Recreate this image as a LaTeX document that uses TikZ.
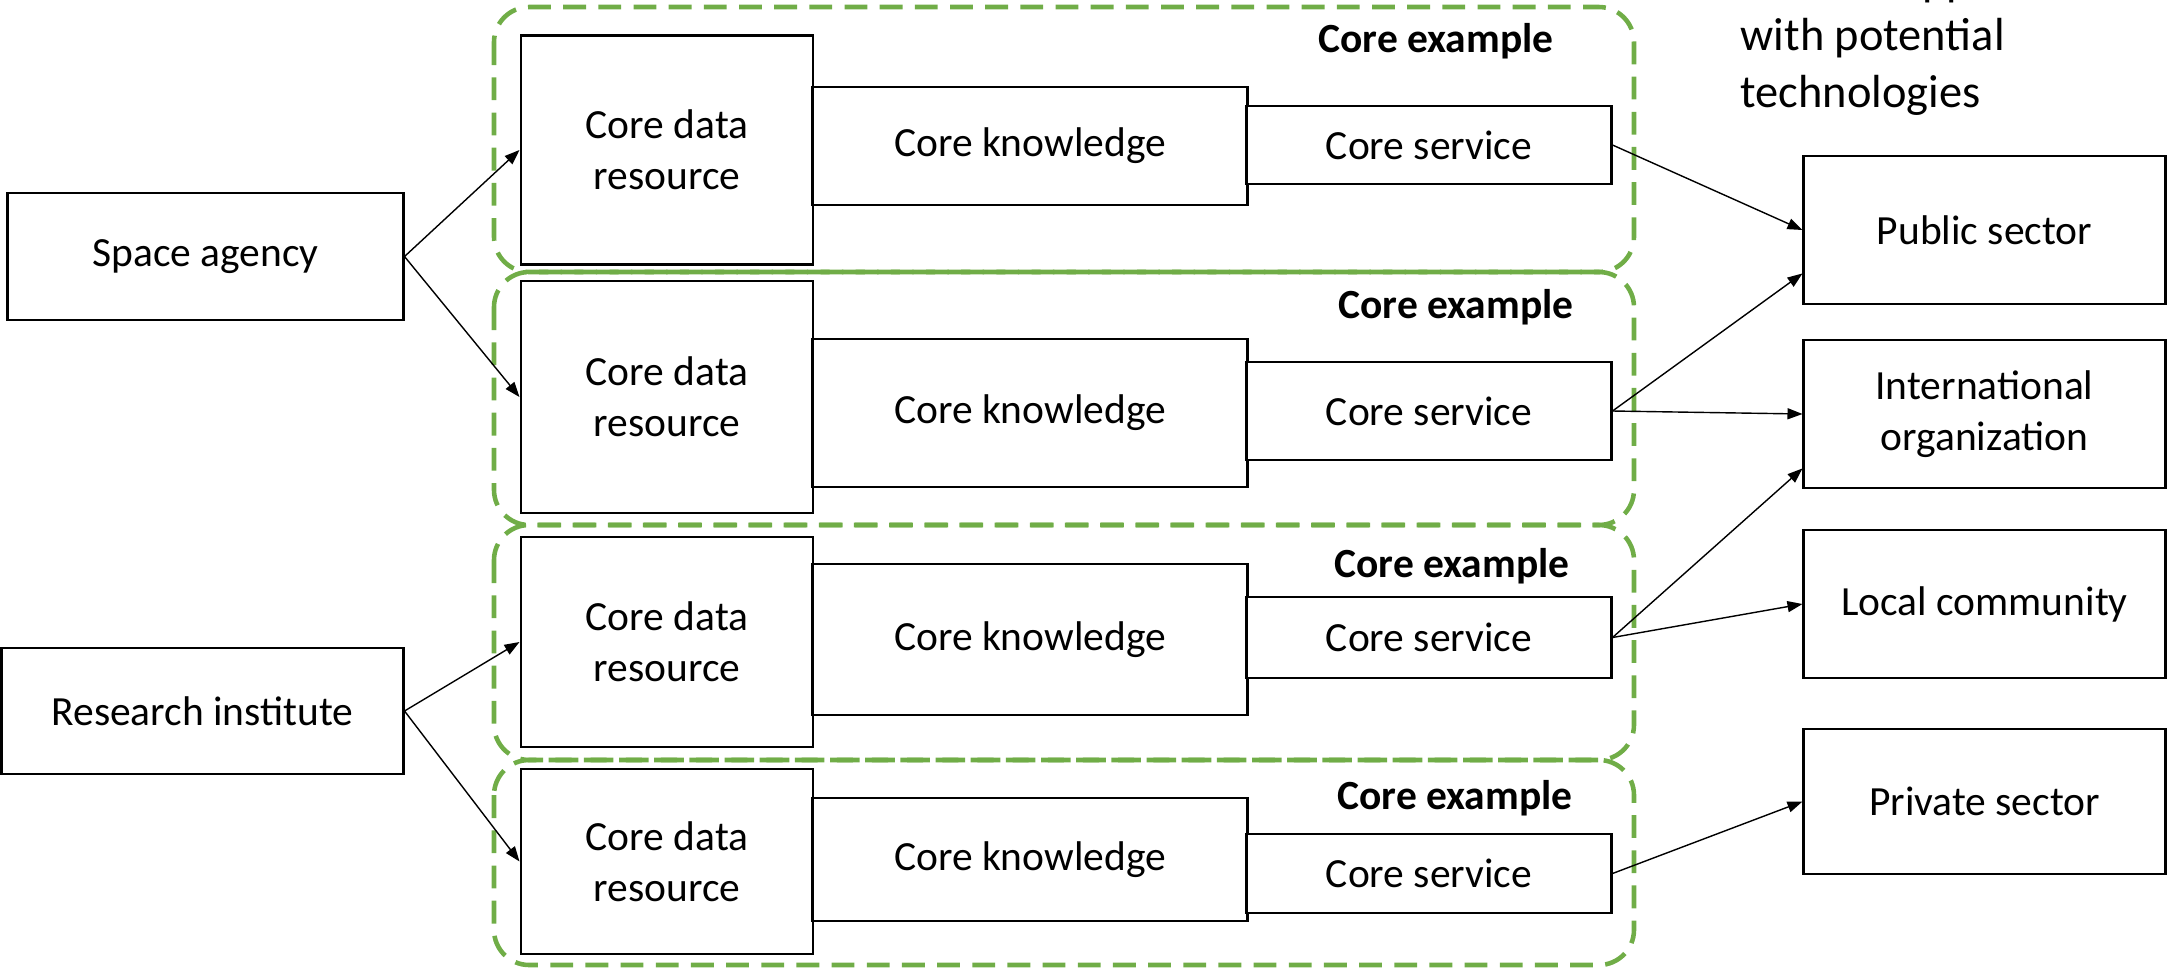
\documentclass[tikz,border=0pt]{standalone}
\usepackage{fontspec}
\setmainfont{Carlito}
\usetikzlibrary{positioning,arrows.meta}
\definecolor{coregreen}{RGB}{112,173,71}

\begin{document}
\begin{tikzpicture}[x=0.01cm,y=-0.01cm,
    every node/.style={inner sep=0pt,align=center,font=\fontsize{11.8}{14.5}\selectfont},
    box/.style={draw,line width=0.8pt,fill=white},
    grp/.style={draw=coregreen,line width=1.3pt,dash pattern=on 6.5pt off 3.5pt,rounded corners=10pt},
    tag/.style={font=\fontsize{11.8}{14.5}\selectfont\bfseries},
    link/.style={-{Triangle[length=1.5mm,width=1.1mm]},line width=0.4pt}]
\clip (0,0) rectangle (2168,969);

% dashed core groups
\draw[grp] (494,7) rectangle (1634,272);
\draw[grp] (494,272) rectangle (1634,525);
\draw[grp] (494,525) rectangle (1634,760);
\draw[grp] (494,760) rectangle (1634,965);
\node[tag] (tag1) at (1436,41) {Core example};
\node[tag] (tag2) at (1456,307) {Core example};
\node[tag] (tag3) at (1452,566) {Core example};
\node[tag] (tag4) at (1455,798) {Core example};

% providers
\node[box,minimum width=3.95cm,minimum height=1.27cm] (sa) at (205.5,256.5) {Space agency};
\node[box,minimum width=4.01cm,minimum height=1.26cm] (ri) at (202.5,711) {Research institute};

% data -> knowledge -> service
\node[box,minimum width=2.92cm,minimum height=2.29cm] (d1) at (667,150) {Core data\\resource};
\node[box,minimum width=4.34cm,minimum height=1.18cm] (k1) at (1030,146) {Core knowledge};
\node[box,minimum width=3.64cm,minimum height=0.78cm] (s1) at (1429,145) {Core service};

\node[box,minimum width=2.92cm,minimum height=2.32cm] (d2) at (667,397) {Core data\\resource};
\node[box,minimum width=4.34cm,minimum height=1.48cm] (k2) at (1030,413) {Core knowledge};
\node[box,minimum width=3.64cm,minimum height=0.98cm] (s2) at (1429,411) {Core service};

\node[box,minimum width=2.92cm,minimum height=2.10cm] (d3) at (667,642) {Core data\\resource};
\node[box,minimum width=4.34cm,minimum height=1.51cm] (k3) at (1030,639.5) {Core knowledge};
\node[box,minimum width=3.64cm,minimum height=0.81cm] (s3) at (1429,637.5) {Core service};

\node[box,minimum width=2.92cm,minimum height=1.85cm] (d4) at (667,861.5) {Core data\\resource};
\node[box,minimum width=4.34cm,minimum height=1.23cm] (k4) at (1030,859.5) {Core knowledge};
\node[box,minimum width=3.64cm,minimum height=0.79cm] (s4) at (1429,873.5) {Core service};

% users
\node[box,minimum width=3.61cm,minimum height=1.48cm] (pub) at (1984.5,230) {Public sector};
\node[box,minimum width=3.61cm,minimum height=1.48cm] (intl) at (1984.5,414) {International\\organization};
\node[box,minimum width=3.61cm,minimum height=1.48cm] (loc) at (1984.5,604) {Local community};
\node[box,minimum width=3.61cm,minimum height=1.45cm] (priv) at (1984.5,801.5) {Private sector};

\node[anchor=west,align=left,font=\fontsize{13.2}{16.2}\selectfont] (note) at (1740,67) {with potential\\technologies};
\node[anchor=base,font=\fontsize{13.2}{16.2}\selectfont] (cut) at (1947,-5) {pp};

\draw[link] (sa.east) -- (d1.west);
\draw[link] (sa.east) -- (d2.west);
\draw[link] (ri.east) -- (d3.west);
\draw[link] (ri.east) -- (d4.west);
\draw[link] (s1.east) -- (pub.west);
\draw[link] (s2.east) -- ([yshift=0.32cm]pub.south west);
\draw[link] (s2.east) -- (intl.west);
\draw[link] (s3.east) -- ([yshift=0.21cm]intl.south west);
\draw[link] (s3.east) -- (loc.west);
\draw[link] (s4.east) -- (priv.west);
\end{tikzpicture}
\end{document}
